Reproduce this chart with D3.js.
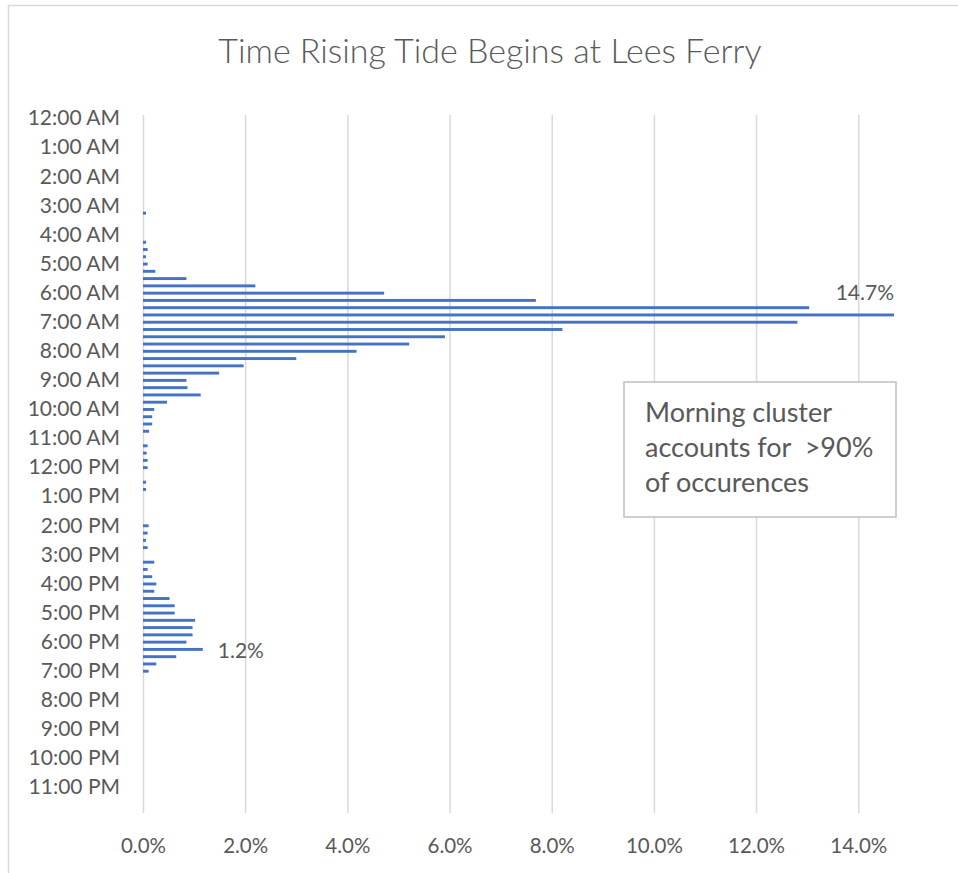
<!DOCTYPE html>
<html>
<head>
<meta charset="utf-8">
<script src="https://cdn.jsdelivr.net/npm/d3@7"></script>
<style>
  body { margin: 0; background: #fff; }
  text { font-family: Lato, "Open Sans", sans-serif; fill: #595959; }
</style>
</head>
<body>
<div id="chart"></div>
<script>
const hourLabels = [
  '12:00 AM', '1:00 AM', '2:00 AM', '3:00 AM', '4:00 AM', '5:00 AM',
  '6:00 AM', '7:00 AM', '8:00 AM', '9:00 AM', '10:00 AM', '11:00 AM',
  '12:00 PM', '1:00 PM', '2:00 PM', '3:00 PM', '4:00 PM', '5:00 PM',
  '6:00 PM', '7:00 PM', '8:00 PM', '9:00 PM', '10:00 PM', '11:00 PM'
];
const quarters = ['00', '15', '30', '45'];

// share of occurrences (%) per 15 minute bin, 4 per hour
const shares = [
  0, 0, 0, 0,            // 12 AM
  0, 0, 0, 0,            // 1 AM
  0, 0, 0, 0,            // 2 AM
  0, 0.06, 0, 0,         // 3 AM
  0, 0.06, 0.09, 0.06,   // 4 AM
  0.09, 0.24, 0.85, 2.2, // 5 AM
  4.72, 7.69, 13.04, 14.7, // 6 AM
  12.81, 8.21, 5.91, 5.21, // 7 AM
  4.18, 3.0, 1.97, 1.49, // 8 AM
  0.85, 0.87, 1.13, 0.47, // 9 AM
  0.22, 0.18, 0.18, 0.12, // 10 AM
  0, 0.09, 0.07, 0.09,   // 11 AM
  0.09, 0, 0.06, 0.06,   // 12 PM
  0, 0, 0, 0,            // 1 PM
  0.11, 0.09, 0.06, 0.09, // 2 PM
  0, 0.22, 0.09, 0.18,   // 3 PM
  0.26, 0.22, 0.52, 0.62, // 4 PM
  0.62, 1.02, 0.97, 0.97, // 5 PM
  0.85, 1.17, 0.65, 0.26, // 6 PM
  0.11, 0, 0, 0,         // 7 PM
  0, 0, 0, 0,            // 8 PM
  0, 0, 0, 0,            // 9 PM
  0, 0, 0, 0,            // 10 PM
  0, 0, 0, 0             // 11 PM
];
const xTicks = [0, 2, 4, 6, 8, 10, 12, 14];
const labelled = [
  { bin: '6:45 AM', text: '14.7%' },
  { bin: '6:15 PM', text: '1.2%' }
];
const noteLines = ['Morning cluster', 'accounts for  >90%', 'of occurences'];

const bins = hourLabels.flatMap(h => quarters.map(q => h.replace(':00', ':' + q)));
const data = bins.map((bin, i) => ({ bin, value: shares[i] }));

function drawChart() {
  const width = 958;
  const height = 873;
  const plot = { left: 143, top: 115, right: 894, bottom: 813 };

  const svg = d3.select('#chart')
    .append('svg')
    .attr('width', width)
    .attr('height', height);

  svg.append('rect')
    .attr('x', 8.5).attr('y', 5.5)
    .attr('width', 1000).attr('height', 1000)
    .attr('fill', '#fff')
    .attr('stroke', '#d9d9d9')
    .attr('stroke-width', 1.5);

  svg.append('text')
    .attr('x', 490).attr('y', 63)
    .attr('text-anchor', 'middle')
    .style('font-size', '34px')
    .style('font-weight', 300)
    .text('Time Rising Tide Begins at Lees Ferry');

  const x = d3.scaleLinear().domain([0, 14.7]).range([plot.left, plot.right]);
  const y = d3.scaleBand().domain(bins).range([plot.top, plot.bottom]).paddingInner(0.6).paddingOuter(0.3);

  const grid = svg.append('g').attr('transform', `translate(0,${plot.bottom})`)
    .call(d3.axisBottom(x).tickValues(xTicks).tickSize(-(plot.bottom - plot.top)).tickFormat(d => d.toFixed(1) + '%').tickPadding(25));
  grid.select('.domain').remove();
  grid.selectAll('line').attr('stroke', '#d9d9d9').attr('stroke-width', 1.5);
  grid.selectAll('text').attr('fill', '#595959').style('font-size', '20.5px').style('font-family', 'Lato, sans-serif');

  const yAxis = svg.append('g').attr('transform', `translate(${plot.left},0)`)
    .call(d3.axisLeft(y).tickValues(hourLabels).tickSize(0).tickPadding(23));
  yAxis.select('.domain').remove();
  yAxis.selectAll('text').attr('fill', '#595959').style('font-size', '21px').style('font-family', 'Lato, sans-serif');

  svg.append('g')
    .selectAll('rect')
    .data(data.filter(d => d.value > 0))
    .join('rect')
    .attr('x', x(0))
    .attr('y', d => y(d.bin))
    .attr('width', d => x(d.value) - x(0))
    .attr('height', y.bandwidth())
    .attr('fill', '#4472c4');

  const big = data.find(d => d.bin === labelled[0].bin);
  svg.append('text')
    .attr('x', x(big.value)).attr('y', y(big.bin) - 13)
    .attr('text-anchor', 'end')
    .style('font-size', '21px')
    .text(labelled[0].text);

  const small = data.find(d => d.bin === labelled[1].bin);
  svg.append('text')
    .attr('x', x(small.value) + 15).attr('y', y(small.bin) + y.bandwidth() / 2 + 9)
    .style('font-size', '21px')
    .text(labelled[1].text);

  const note = svg.append('g');
  note.append('rect')
    .attr('x', 624).attr('y', 382)
    .attr('width', 272).attr('height', 135)
    .attr('fill', '#fff')
    .attr('stroke', '#bfbfbf')
    .attr('stroke-width', 1.5);
  note.selectAll('text')
    .data(noteLines)
    .join('text')
    .attr('x', 645)
    .attr('y', (d, i) => 422 + i * 35)
    .style('font-size', '27px')
    .style('white-space', 'pre')
    .text(d => d);
}

drawChart();
</script>
</body>
</html>
